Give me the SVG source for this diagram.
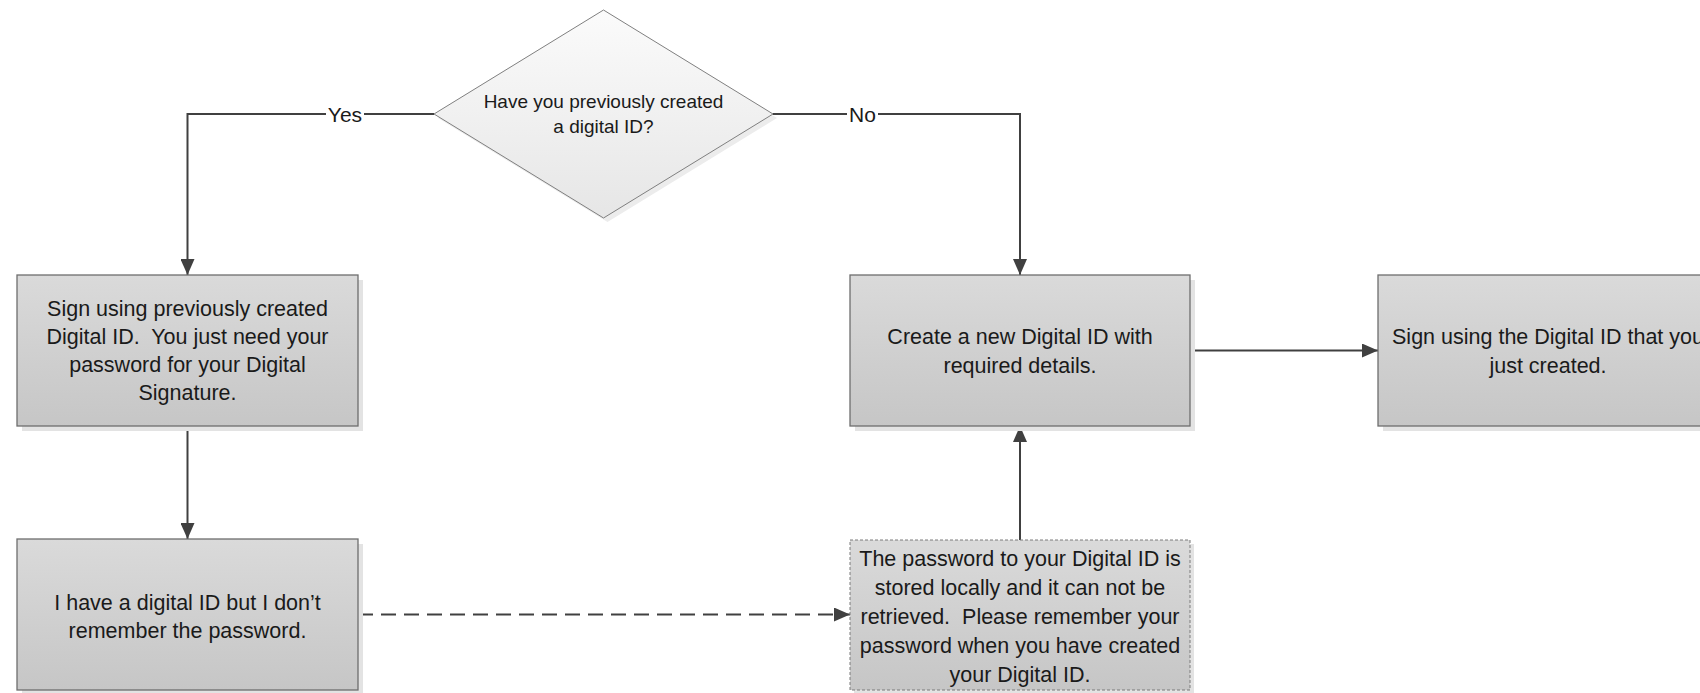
<svg xmlns="http://www.w3.org/2000/svg" width="1700" height="693" viewBox="0 0 1700 693">
<style>
  .box { fill: url(#boxGrad); stroke: #6e6e6e; stroke-width: 1.3; }
  .dbox { fill: url(#boxGrad); stroke: #7a7a7a; stroke-width: 1; stroke-dasharray: 3 2; }
  .shadow { fill: #e3e3e3; }
  .dia { fill: url(#diaGrad); stroke: #7f7f7f; stroke-width: 1; }
  .t { font-family: "Liberation Sans", Arial, sans-serif; font-size: 21.5px; fill: #1a1a1a; text-anchor: middle; white-space: pre; }
  .td { font-family: "Liberation Sans", Arial, sans-serif; font-size: 19px; fill: #1a1a1a; text-anchor: middle; }
  .lbl { font-family: "Liberation Sans", Arial, sans-serif; font-size: 21px; fill: #1a1a1a; text-anchor: middle; }
  .conn { fill: none; stroke: #404040; stroke-width: 2; }
  .dash { stroke-dasharray: 15 8; }
</style>
<defs>
  <linearGradient id="boxGrad" x1="0" y1="0" x2="0" y2="1">
    <stop offset="0" stop-color="#dadada"/>
    <stop offset="1" stop-color="#c6c6c6"/>
  </linearGradient>
  <linearGradient id="diaGrad" x1="0" y1="0" x2="0" y2="1">
    <stop offset="0" stop-color="#fbfbfb"/>
    <stop offset="1" stop-color="#e6e6e6"/>
  </linearGradient>
  <marker id="arrow" viewBox="0 0 16 14" refX="16" refY="7" markerWidth="16" markerHeight="14" markerUnits="userSpaceOnUse" orient="auto">
    <path d="M0,0 L16,7 L0,14 Z" fill="#404040"/>
  </marker>
</defs>
<rect width="1700" height="693" fill="#ffffff"/>

<g id="connectors">
  <path class="conn" d="M434,114 H187.5 V275" marker-end="url(#arrow)"/>
  <path class="conn" d="M773,114 H1020 V275" marker-end="url(#arrow)"/>
  <path class="conn" d="M187.5,426 V539" marker-end="url(#arrow)"/>
  <path class="conn" d="M1190,350.5 H1378" marker-end="url(#arrow)"/>
  <path class="conn" d="M1020,540 V426" marker-end="url(#arrow)"/>
  <path class="conn dash" d="M358,614.5 H850" marker-end="url(#arrow)"/>
  <rect x="326" y="102" width="38" height="24" fill="#ffffff"/>
  <text class="lbl" x="345" y="121.5">Yes</text>
  <rect x="847" y="102" width="31" height="24" fill="#ffffff"/>
  <text class="lbl" x="862.5" y="121.5">No</text>
</g>

<g id="decision">
  <polygon points="607.5,14 777,118 607.5,222 438,118" fill="#ececec"/>
  <polygon class="dia" points="603.5,10 773,114 603.5,218 434,114"/>
  <text class="td" x="603.5" y="108">Have you previously created</text>
  <text class="td" x="603.5" y="133">a digital ID?</text>
</g>

<g id="sign-previous">
  <rect class="shadow" x="22" y="280" width="341" height="151"/>
  <rect class="box" x="17" y="275" width="341" height="151"/>
  <text class="t" x="187.5" y="315.5">Sign using previously created</text>
  <text class="t" x="187.5" y="343.5">Digital ID.&#160; You just need your</text>
  <text class="t" x="187.5" y="371.5">password for your Digital</text>
  <text class="t" x="187.5" y="399.5">Signature.</text>
</g>

<g id="forgot-password">
  <rect class="shadow" x="22" y="544" width="341" height="151"/>
  <rect class="box" x="17" y="539" width="341" height="151"/>
  <text class="t" x="187.5" y="609.5">I have a digital ID but I don’t</text>
  <text class="t" x="187.5" y="637.5">remember the password.</text>
</g>

<g id="create-new">
  <rect class="shadow" x="855" y="280" width="340" height="151"/>
  <rect class="box" x="850" y="275" width="340" height="151"/>
  <text class="t" x="1020" y="344">Create a new Digital ID with</text>
  <text class="t" x="1020" y="372.5">required details.</text>
</g>

<g id="sign-new">
  <rect class="shadow" x="1383" y="280" width="340" height="151"/>
  <rect class="box" x="1378" y="275" width="340" height="151"/>
  <text class="t" x="1548" y="344">Sign using the Digital ID that you</text>
  <text class="t" x="1548" y="372.5">just created.</text>
</g>

<g id="password-note">
  <rect class="shadow" x="854" y="544" width="340" height="150"/>
  <rect class="dbox" x="850" y="540" width="340" height="150"/>
  <text class="t" x="1020" y="565.5">The password to your Digital ID is</text>
  <text class="t" x="1020" y="594.5">stored locally and it can not be</text>
  <text class="t" x="1020" y="623.5">retrieved.&#160; Please remember your</text>
  <text class="t" x="1020" y="652.5">password when you have created</text>
  <text class="t" x="1020" y="681.5">your Digital ID.</text>
</g>
</svg>
